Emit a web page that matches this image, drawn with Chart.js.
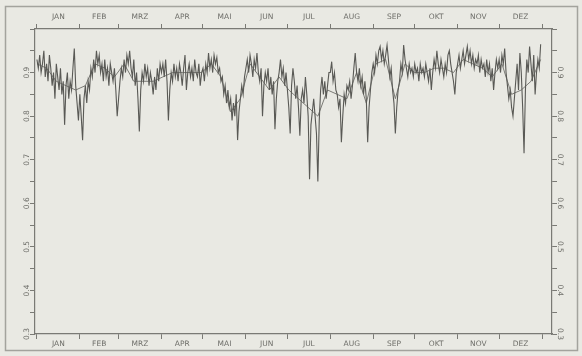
<!DOCTYPE html>
<html>
<head>
<meta charset="utf-8">
<script src="https://cdn.jsdelivr.net/npm/chart.js@4.4.1/dist/chart.umd.min.js"></script>
<style>
html, body { margin: 0; padding: 0; background: #e9e9e3; }
canvas { display: block; }
</style>
</head>
<body>
<canvas id="chart" width="582" height="356"></canvas>
<script>
// month names and first day of each month (day of year, last entry = year end)
const months = ["JAN", "FEB", "MRZ", "APR", "MAI", "JUN", "JUL", "AUG", "SEP", "OKT", "NOV", "DEZ"]
const monthStarts = [0, 31, 59, 90, 120, 151, 181, 212, 243, 273, 304, 334, 365]
const yLabels = [0.3, 0.4, 0.5, 0.6, 0.7, 0.8, 0.9]

// daily values, one row per month
const dayStep = 1
const dailyValues = [
    0.93, 0.91, 0.94, 0.90, 0.92, 0.95, 0.89, 0.92, 0.88, 0.94, 0.91, 0.87, 0.90, 0.84, 0.92, 0.89,
    0.86, 0.91, 0.85, 0.88, 0.78, 0.87, 0.90, 0.84, 0.88, 0.86, 0.91, 0.955, 0.87, 0.83, 0.79,
    0.85, 0.80, 0.745, 0.84, 0.87, 0.83, 0.88, 0.86, 0.91, 0.89, 0.93, 0.90, 0.95, 0.92,
    0.94, 0.90, 0.92, 0.88, 0.93, 0.89, 0.91, 0.87, 0.92, 0.90, 0.88, 0.91, 0.86, 0.80,
    0.84, 0.88, 0.91, 0.89, 0.93, 0.90, 0.94, 0.92, 0.95, 0.91, 0.89, 0.93, 0.87, 0.90, 0.84, 0.765,
    0.86, 0.90, 0.88, 0.92, 0.89, 0.91, 0.87, 0.90, 0.88, 0.85, 0.89, 0.86, 0.91, 0.88, 0.92,
    0.90, 0.92, 0.89, 0.93, 0.88, 0.79, 0.86, 0.90, 0.88, 0.92, 0.89, 0.91, 0.88, 0.92, 0.90,
    0.87, 0.91, 0.94, 0.86, 0.90, 0.92, 0.89, 0.91, 0.88, 0.93, 0.90, 0.89, 0.92, 0.87, 0.90,
    0.91, 0.88, 0.92, 0.90, 0.945, 0.91, 0.93, 0.90, 0.94, 0.92, 0.935, 0.90, 0.91, 0.88, 0.89, 0.85,
    0.87, 0.83, 0.86, 0.82, 0.84, 0.79, 0.83, 0.80, 0.85, 0.745, 0.81, 0.84, 0.87, 0.85, 0.89,
    0.91, 0.93, 0.90, 0.94, 0.92, 0.89, 0.93, 0.91, 0.945, 0.90, 0.88, 0.91, 0.80, 0.87, 0.90,
    0.88, 0.91, 0.86, 0.89, 0.85, 0.88, 0.77, 0.84, 0.88, 0.90, 0.93, 0.89, 0.91, 0.87, 0.90,
    0.86, 0.82, 0.76, 0.87, 0.91, 0.88, 0.84, 0.87, 0.82, 0.755, 0.84, 0.86, 0.83, 0.89, 0.85, 0.80,
    0.655, 0.78, 0.81, 0.84, 0.80, 0.76, 0.65, 0.79, 0.86, 0.89, 0.85, 0.88, 0.84, 0.87, 0.90,
    0.90, 0.925, 0.88, 0.90, 0.86, 0.85, 0.82, 0.84, 0.74, 0.80, 0.85, 0.83, 0.87, 0.86, 0.88, 0.84,
    0.87, 0.91, 0.945, 0.90, 0.88, 0.91, 0.87, 0.89, 0.85, 0.88, 0.84, 0.74, 0.82, 0.86, 0.90,
    0.92, 0.90, 0.94, 0.92, 0.95, 0.96, 0.93, 0.95, 0.92, 0.94, 0.963, 0.93, 0.89, 0.91, 0.86,
    0.83, 0.76, 0.82, 0.86, 0.88, 0.92, 0.90, 0.963, 0.93, 0.91, 0.89, 0.92, 0.90, 0.91, 0.89,
    0.92, 0.90, 0.91, 0.88, 0.92, 0.90, 0.91, 0.89, 0.92, 0.90, 0.88, 0.91, 0.86, 0.90, 0.93, 0.91,
    0.95, 0.92, 0.90, 0.93, 0.91, 0.89, 0.92, 0.90, 0.94, 0.95, 0.92, 0.90, 0.88, 0.85, 0.90,
    0.92, 0.94, 0.91, 0.93, 0.95, 0.92, 0.94, 0.96, 0.93, 0.95, 0.92, 0.94, 0.91, 0.93, 0.92,
    0.94, 0.90, 0.93, 0.91, 0.92, 0.89, 0.93, 0.90, 0.92, 0.88, 0.91, 0.86, 0.90, 0.93, 0.91,
    0.93, 0.90, 0.94, 0.92, 0.955, 0.90, 0.87, 0.84, 0.86, 0.82, 0.80, 0.84, 0.88, 0.92, 0.86, 0.945,
    0.90, 0.82, 0.715, 0.86, 0.93, 0.90, 0.96, 0.92, 0.88, 0.94, 0.85, 0.90, 0.93, 0.91, 0.965,
]

// smoothed line, one value per week
const weekStep = 7
const weeklyMean = [
    0.92, 0.91, 0.88, 0.87, 0.86, 0.87, 0.92, 0.91, 0.89, 0.92,
    0.88, 0.88, 0.88, 0.89, 0.90, 0.90, 0.90, 0.90, 0.92, 0.89,
    0.81, 0.84, 0.92, 0.89, 0.86, 0.89, 0.86, 0.84, 0.82, 0.80,
    0.86, 0.85, 0.84, 0.90, 0.83, 0.92, 0.93, 0.84, 0.92, 0.90,
    0.90, 0.91, 0.91, 0.90, 0.93, 0.92, 0.91, 0.89, 0.92, 0.85,
    0.86, 0.88, 0.93,
]

const inkColor = "#595955"
const axisColor = "#7a7a75"
const labelColor = "#6e6e69"

const monthMids = months.map((m, i) => (monthStarts[i] + monthStarts[i + 1]) / 2)

const monthAxis = (position, fitHeight, pad) => ({
    type : "linear",
    position : position,
    min : -1.4,
    max : 372.2,
    afterBuildTicks : scale => {
        scale.ticks = monthStarts.concat(monthMids).sort((a, b) => a - b).map(v => ({ value : v }))
    },
    afterFit : scale => { scale.height = fitHeight },
    ticks : {
        autoSkip : false,
        maxRotation : 0,
        minRotation : 0,
        padding : pad,
        color : labelColor,
        font : { family : "DejaVu Sans", size : 7.5 },
        callback : value => {
            const i = monthMids.indexOf(value)
            return i >= 0 ? months[i] : ""
        },
    },
    grid : {
        drawOnChartArea : false,
        tickLength : 5,
        tickColor : ctx => monthStarts.includes(ctx.tick.value) ? axisColor : "rgba(0,0,0,0)",
    },
    border : { color : axisColor, width : 1.2 },
})

const valueAxis = (position, fitWidth) => ({
    type : "linear",
    position : position,
    min : 0.3,
    max : 1.0,
    afterBuildTicks : scale => {
        const t = []
        for (let k = 6; k <= 20; k++) t.push({ value : k / 20 })
        scale.ticks = t
    },
    afterFit : scale => { scale.width = fitWidth },
    ticks : { display : false },
    grid : { drawOnChartArea : false, tickLength : 5, tickColor : axisColor },
    border : { color : axisColor, width : 1.2 },
})

// paper background, outer frame and the rotated value labels
const paperPlugin = {
    id : "paper",
    beforeDraw(chart) {
        const ctx = chart.ctx
        ctx.save()
        ctx.fillStyle = "#e9e9e3"
        ctx.fillRect(0, 0, chart.width, chart.height)
        ctx.strokeStyle = "#a3a39d"
        ctx.lineWidth = 1.5
        ctx.strokeRect(5.5, 6.5, 572, 344)
        ctx.restore()
    },
    afterDraw(chart) {
        const ctx = chart.ctx
        const left = chart.scales.y
        ctx.save()
        ctx.fillStyle = labelColor
        ctx.font = "7.5px 'DejaVu Sans'"
        ctx.textAlign = "center"
        ctx.textBaseline = "middle"
        yLabels.forEach(v => {
            const py = left.getPixelForValue(v)
            ctx.save()
            ctx.translate(27.5, py)
            ctx.rotate(-Math.PI / 2)
            ctx.fillText(v.toFixed(1), 0, 0)
            ctx.restore()
            ctx.save()
            ctx.translate(559.5, py)
            ctx.rotate(Math.PI / 2)
            ctx.fillText(v.toFixed(1), 0, 0)
            ctx.restore()
        })
        ctx.restore()
    },
}

new Chart(document.getElementById("chart").getContext("2d"), {
    type : "line",
    data : {
        datasets : [{
            label : "Tageswerte",
            data : dailyValues.map((v, i) => ({ x : i * dayStep, y : v })),
            borderColor : inkColor,
            borderWidth : 1.1,
            pointRadius : 0,
            tension : 0,
            xAxisID : "x",
            yAxisID : "y",
        }, {
            label : "Wochenmittel",
            data : weeklyMean.map((v, i) => ({ x : i * weekStep, y : v })),
            borderColor : "#7b7b76",
            borderWidth : 1,
            pointRadius : 0,
            tension : 0,
            xAxisID : "x",
            yAxisID : "y",
        }],
    },
    options : {
        responsive : false,
        animation : false,
        layout : { padding : 0 },
        scales : {
            x : monthAxis("bottom", 22, 1),
            x2 : monthAxis("top", 29, 2),
            y : valueAxis("left", 35),
            y2 : valueAxis("right", 30),
        },
        plugins : {
            legend : { display : false },
            tooltip : { enabled : false },
        },
    },
    plugins : [paperPlugin],
})
</script>
</body>
</html>
